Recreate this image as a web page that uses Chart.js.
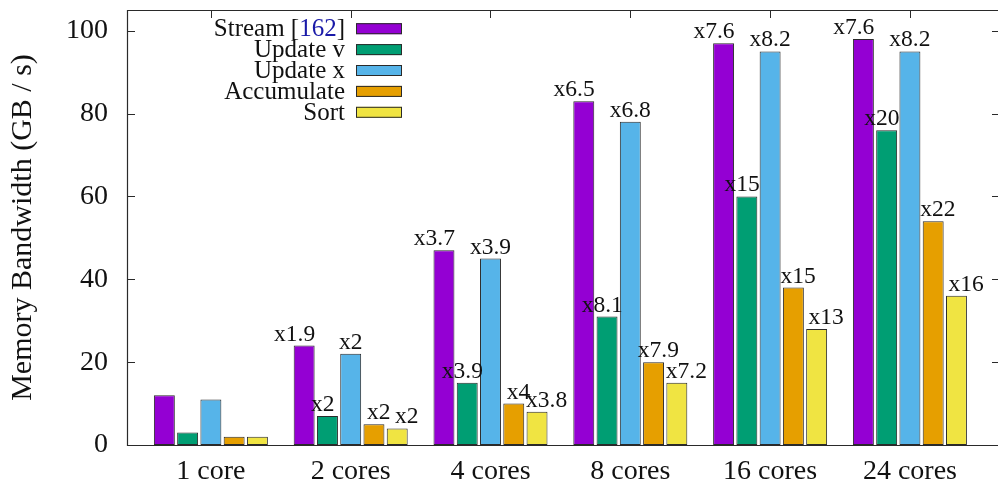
<!DOCTYPE html>
<html>
<head>
<meta charset="utf-8">
<script src="https://cdn.jsdelivr.net/npm/chart.js@4.4.1/dist/chart.umd.min.js"></script>
<style>
	body { margin: 0; background: #fff; }
	#wrap { width: 998px; height: 490px; }
</style>
</head>
<body>
<div id="wrap"><canvas id="bw" width="998" height="490"></canvas></div>
<script>
// memory bandwidth per core count
var cores = ["1 core", "2 cores", "4 cores", "8 cores", "16 cores", "24 cores"];

var streamVals = [12, 24, 47, 83, 97, 98];
var updVVals   = [3, 7, 15, 31, 60, 76];
var updXVals   = [11, 22, 45, 78, 95, 95];
var accVals    = [2, 5, 10, 20, 38, 54];
var sortVals   = [2, 4, 8, 15, 28, 36];

// speedup labels over 1 core
var streamLbl = ["", "x1.9", "x3.7", "x6.5", "x7.6", "x7.6"];
var updVLbl   = ["", "x2", "x3.9", "x8.1", "x15", "x20"];
var updXLbl   = ["", "x2", "x3.9", "x6.8", "x8.2", "x8.2"];
var accLbl    = ["", "x2", "x4", "x7.9", "x15", "x22"];
var sortLbl   = ["", "x2", "x3.8", "x7.2", "x13", "x16"];

var yTicks = [0, 20, 40, 60, 80, 100];

var SERIF = "'Liberation Serif', 'Times New Roman', serif";
var LINE = "#2a2a2a";

function pts(vals) {
	return vals.map(function(v, i) { return {x: i, y: v}; });
}

function ds(label, vals, color, lbls) {
	return {
		label: label,
		data: pts(vals),
		backgroundColor: color,
		borderColor: LINE,
		borderWidth: 1,
		borderSkipped: false,
		speedup: lbls
	};
}

var frame = {
	id: "frame",
	beforeDatasetsDraw: function(chart) {
		var c = chart.ctx, a = chart.chartArea;
		var xs = chart.scales.x, ys = chart.scales.y;
		c.save();
		c.strokeStyle = LINE;
		c.lineWidth = 1;
		c.beginPath();
		yTicks.forEach(function(t) {
			var y = Math.round(ys.getPixelForValue(t)) + 0.5;
			c.moveTo(a.left, y); c.lineTo(a.left + 8, y);
			c.moveTo(a.right + 2, y); c.lineTo(a.right - 6, y);
		});
		cores.forEach(function(n, i) {
			var x = Math.round(xs.getPixelForValue(i)) + 0.5;
			c.moveTo(x, a.top); c.lineTo(x, a.top + 8);
			c.moveTo(x, a.bottom); c.lineTo(x, a.bottom - 8);
		});
		c.stroke();
		c.restore();
	},
	afterDatasetsDraw: function(chart) {
		var c = chart.ctx, a = chart.chartArea;
		c.save();
		c.strokeStyle = LINE;
		c.lineWidth = 1.2;
		c.beginPath();
		c.moveTo(a.right + 2, a.top + 0.5);
		c.lineTo(a.left + 0.5, a.top + 0.5);
		c.lineTo(a.left + 0.5, a.bottom + 0.5);
		c.lineTo(a.right + 2, a.bottom + 0.5);
		c.stroke();

		// speedup labels
		c.fillStyle = "#111";
		c.font = "23.5px " + SERIF;
		c.textAlign = "center";
		c.textBaseline = "alphabetic";
		chart.data.datasets.forEach(function(d, di) {
			var meta = chart.getDatasetMeta(di);
			meta.data.forEach(function(bar, j) {
				var t = d.speedup[j];
				if (!t) return;
				c.fillText(t, bar.x + (di - 2) * 4.8, bar.y - 5);
			});
		});
		c.restore();
	},
	afterDraw: function(chart) {
		// gnuplot style key: text right aligned, swatch on the right
		var c = chart.ctx;
		var ds0 = chart.data.datasets;
		c.save();
		c.font = "25px " + SERIF;
		c.textBaseline = "middle";
		ds0.forEach(function(d, i) {
			var y = 28.7 + i * 20.9;
			var tx = 345;
			if (i == 0) {
				c.textAlign = "left";
				var w1 = c.measureText("Stream ").width;
				var w2 = c.measureText("[").width;
				var w3 = c.measureText("162").width;
				var w4 = c.measureText("]").width;
				var x0 = tx - (w1 + w2 + w3 + w4);
				c.fillStyle = "#111";
				c.fillText("Stream [", x0, y + 1);
				c.fillStyle = "#1a1aa8";
				c.fillText("162", x0 + w1 + w2, y + 1);
				c.fillStyle = "#111";
				c.fillText("]", x0 + w1 + w2 + w3, y + 1);
			} else {
				c.textAlign = "right";
				c.fillStyle = "#111";
				c.fillText(d.label, tx, y + 1);
			}
			c.fillStyle = d.backgroundColor;
			c.fillRect(356, y - 5.5, 46, 11);
			c.strokeStyle = LINE;
			c.lineWidth = 1;
			c.strokeRect(356.5, y - 5, 45, 10);
		});
		c.restore();
	}
};

new Chart(document.getElementById("bw"), {
	type: "bar",
	data: {
		datasets: [
			ds("Stream [162]", streamVals, "#9400D3", streamLbl),
			ds("Update v", updVVals, "#009E73", updVLbl),
			ds("Update x", updXVals, "#56B4E9", updXLbl),
			ds("Accumulate", accVals, "#E69F00", accLbl),
			ds("Sort", sortVals, "#F0E442", sortLbl)
		]
	},
	options: {
		responsive: false,
		animation: false,
		devicePixelRatio: 1,
		categoryPercentage: 0.832,
		barPercentage: 0.9,
		layout: { padding: { top: 10, right: 0, left: 0, bottom: 0 } },
		plugins: {
			legend: { display: false },
			tooltip: { enabled: false }
		},
		scales: {
			x: {
				type: "linear",
				offset: false,
				min: -0.6,
				max: 5.63,
				grid: { display: false, drawTicks: false },
				border: { display: false },
				ticks: {
					stepSize: 1,
					includeBounds: false,
					autoSkip: false,
					maxRotation: 0,
					padding: 10,
					color: "#111",
					font: { family: SERIF, size: 28 },
					callback: function(v) { return cores[v] || ""; }
				},
				afterFit: function(s) { s.height = 45; s.paddingLeft = 0; s.paddingRight = 0; }
			},
			y: {
				min: 0,
				max: 105,
				grid: { display: false, drawTicks: false },
				border: { display: false },
				ticks: {
					stepSize: 20,
					includeBounds: false,
					padding: 19,
					color: "#111",
					font: { family: SERIF, size: 28 }
				},
				title: {
					display: true,
					text: "Memory Bandwidth (GB / s)",
					color: "#111",
					font: { family: SERIF, size: 30 },
					padding: { top: 5, bottom: 0 }
				},
				afterFit: function(s) { s.width = 127; s.paddingTop = 0; s.paddingBottom = 0; }
			}
		}
	},
	plugins: [frame]
});
</script>
</body>
</html>
